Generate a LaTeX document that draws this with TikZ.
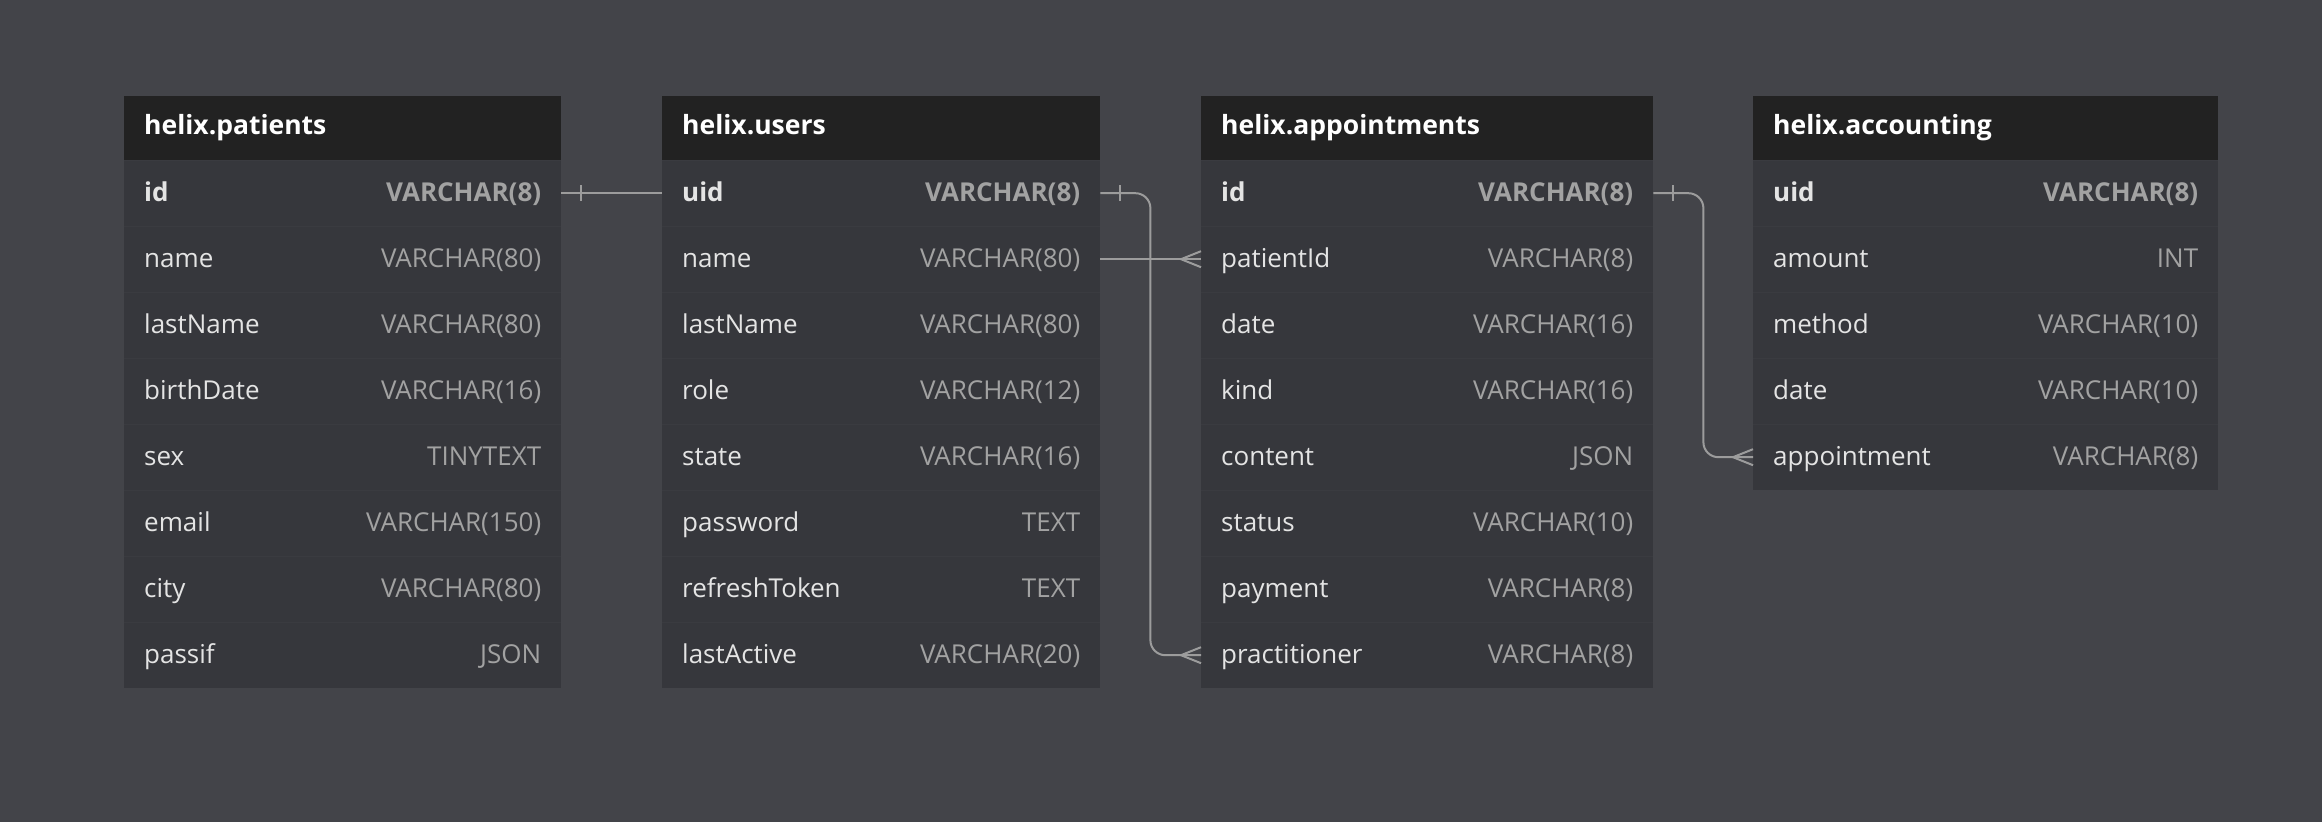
\documentclass[tikz,border=0pt]{standalone}
\usepackage{fontspec}
\setmainfont{Open Sans}
\usepackage{tikz}

\definecolor{canvas}{HTML}{434449}
\definecolor{headbg}{HTML}{222222}
\definecolor{rowbg}{HTML}{36373C}
\definecolor{rowrule}{HTML}{3A3B40}
\definecolor{fieldfg}{HTML}{E4E4E4}
\definecolor{typefg}{HTML}{A2A2A2}
\definecolor{relfg}{HTML}{9C9C9C}

\begin{document}
\begin{tikzpicture}[x=1pt,y=-1pt,
  tablehead/.style={fill=headbg,anchor=north west,minimum height=64pt,inner sep=0pt},
  tablerow/.style={fill=rowbg,anchor=north west,minimum height=66pt,inner sep=0pt},
  tabletitle/.style={anchor=base west,inner sep=0pt,text=white,font=\fontsize{26.5}{31}\selectfont\bfseries},
  fieldname/.style={anchor=base west,inner sep=0pt,text=fieldfg,font=\fontsize{26}{31}\selectfont},
  fieldtype/.style={anchor=base east,inner sep=0pt,text=typefg,font=\fontsize{26}{31}\selectfont},
  rel/.style={draw=relfg,line width=2pt}]
\fill[canvas] (0,0) rectangle (2322,822);

\node[tablehead,minimum width=437pt] (patients) at (124,96) {};
\node[tabletitle] (patients-title) at ([xshift=20pt,yshift=-6pt]patients.west) {helix.patients};
\foreach \fname/\ftype [count=\i] in {id/VARCHAR(8),name/VARCHAR(80),lastName/VARCHAR(80),birthDate/VARCHAR(16),sex/TINYTEXT,email/VARCHAR(150),city/VARCHAR(80),passif/JSON} {
  \node[tablerow,minimum width=437pt] (patients-\i) at (124,{160+66*(\i-1)}) {};
  \draw[rowrule,line width=1pt] (patients-\i.north west) -- (patients-\i.north east);
  \node[fieldname] (patients-\i-name) at ([xshift=20pt,yshift=-8pt]patients-\i.west) {\ifnum\i=1 \bfseries\fi\fname};
  \node[fieldtype] (patients-\i-type) at ([xshift=-20pt,yshift=-8pt]patients-\i.east) {\ifnum\i=1 \bfseries\fi\ftype};
}

\node[tablehead,minimum width=438pt] (users) at (662,96) {};
\node[tabletitle] (users-title) at ([xshift=20pt,yshift=-6pt]users.west) {helix.users};
\foreach \fname/\ftype [count=\i] in {uid/VARCHAR(8),name/VARCHAR(80),lastName/VARCHAR(80),role/VARCHAR(12),state/VARCHAR(16),password/TEXT,refreshToken/TEXT,lastActive/VARCHAR(20)} {
  \node[tablerow,minimum width=438pt] (users-\i) at (662,{160+66*(\i-1)}) {};
  \draw[rowrule,line width=1pt] (users-\i.north west) -- (users-\i.north east);
  \node[fieldname] (users-\i-name) at ([xshift=20pt,yshift=-8pt]users-\i.west) {\ifnum\i=1 \bfseries\fi\fname};
  \node[fieldtype] (users-\i-type) at ([xshift=-20pt,yshift=-8pt]users-\i.east) {\ifnum\i=1 \bfseries\fi\ftype};
}

\node[tablehead,minimum width=452pt] (appointments) at (1201,96) {};
\node[tabletitle] (appointments-title) at ([xshift=20pt,yshift=-6pt]appointments.west) {helix.appointments};
\foreach \fname/\ftype [count=\i] in {id/VARCHAR(8),patientId/VARCHAR(8),date/VARCHAR(16),kind/VARCHAR(16),content/JSON,status/VARCHAR(10),payment/VARCHAR(8),practitioner/VARCHAR(8)} {
  \node[tablerow,minimum width=452pt] (appointments-\i) at (1201,{160+66*(\i-1)}) {};
  \draw[rowrule,line width=1pt] (appointments-\i.north west) -- (appointments-\i.north east);
  \node[fieldname] (appointments-\i-name) at ([xshift=20pt,yshift=-8pt]appointments-\i.west) {\ifnum\i=1 \bfseries\fi\fname};
  \node[fieldtype] (appointments-\i-type) at ([xshift=-20pt,yshift=-8pt]appointments-\i.east) {\ifnum\i=1 \bfseries\fi\ftype};
}

\node[tablehead,minimum width=465pt] (accounting) at (1753,96) {};
\node[tabletitle] (accounting-title) at ([xshift=20pt,yshift=-6pt]accounting.west) {helix.accounting};
\foreach \fname/\ftype [count=\i] in {uid/VARCHAR(8),amount/INT,method/VARCHAR(10),date/VARCHAR(10),appointment/VARCHAR(8)} {
  \node[tablerow,minimum width=465pt] (accounting-\i) at (1753,{160+66*(\i-1)}) {};
  \draw[rowrule,line width=1pt] (accounting-\i.north west) -- (accounting-\i.north east);
  \node[fieldname] (accounting-\i-name) at ([xshift=20pt,yshift=-8pt]accounting-\i.west) {\ifnum\i=1 \bfseries\fi\fname};
  \node[fieldtype] (accounting-\i-type) at ([xshift=-20pt,yshift=-8pt]accounting-\i.east) {\ifnum\i=1 \bfseries\fi\ftype};
}

% relations
\draw[rel] (patients-1.east) -- (users-1.west);
\draw[rel] ([xshift=20pt,yshift=-8pt]patients-1.east) -- ([xshift=20pt,yshift=8pt]patients-1.east);

\draw[rel,rounded corners=15pt] (users-1.east) -- ++(50,0) |- (appointments-8.west);
\draw[rel] ([xshift=20pt,yshift=-8pt]users-1.east) -- ([xshift=20pt,yshift=8pt]users-1.east);
\draw[rel] ([yshift=8pt]appointments-8.west) -- ([xshift=-20pt]appointments-8.west) -- ([yshift=-8pt]appointments-8.west);

\draw[rel] (users-2.east) -- (appointments-2.west);
\draw[rel] ([yshift=8pt]appointments-2.west) -- ([xshift=-20pt]appointments-2.west) -- ([yshift=-8pt]appointments-2.west);

\draw[rel,rounded corners=15pt] (appointments-1.east) -- ++(50,0) |- (accounting-5.west);
\draw[rel] ([xshift=20pt,yshift=-8pt]appointments-1.east) -- ([xshift=20pt,yshift=8pt]appointments-1.east);
\draw[rel] ([yshift=8pt]accounting-5.west) -- ([xshift=-20pt]accounting-5.west) -- ([yshift=-8pt]accounting-5.west);
\end{tikzpicture}
\end{document}
